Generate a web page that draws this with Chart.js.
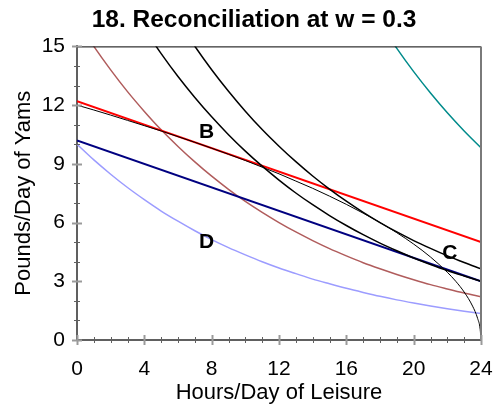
<!DOCTYPE html>
<html>
<head>
<meta charset="utf-8">
<script src="https://cdn.jsdelivr.net/npm/chart.js@4"></script>
<style>
  html, body { margin: 0; padding: 0; background: #fff; }
  canvas { display: block; }
</style>
</head>
<body>
<canvas id="leisureChart" width="499" height="407"></canvas>
<script>
// hours of leisure used for the curves
const hours = [0, 1, 2, 3, 4, 5, 6, 7, 8, 9, 10, 11, 12, 13, 14, 15, 16, 17, 18, 19, 20, 21, 22, 23, 24];

// indifference curves (pounds of yams)
const icLow = [10.0, 9.20, 8.47, 7.79, 7.17, 6.59, 6.07, 5.58, 5.13, 4.72, 4.35, 4.00, 3.68, 3.39, 3.11, 2.87, 2.64, 2.43, 2.23, 2.05, 1.89, 1.74, 1.60, 1.47, 1.35];
const icBrown = [16.3, 15.0, 13.8, 12.69, 11.68, 10.74, 9.89, 9.10, 8.37, 7.70, 7.08, 6.52, 6.00, 5.52, 5.08, 4.67, 4.30, 3.95, 3.64, 3.35, 3.08, 2.83, 2.61, 2.40, 2.21];
const icC = [22.2, 20.42, 18.79, 17.29, 15.91, 14.63, 13.46, 12.39, 11.40, 10.49, 9.65, 8.88, 8.17, 7.51, 6.91, 6.36, 5.85, 5.38, 4.95, 4.56, 4.19, 3.86, 3.55, 3.27, 3.00];
const icTop = [26.9, 24.75, 22.77, 20.95, 19.27, 17.73, 16.31, 15.01, 13.81, 12.71, 11.69, 10.75, 9.90, 9.11, 8.38, 7.71, 7.09, 6.52, 6.00, 5.52, 5.08, 4.68, 4.30, 3.96, 3.64];

const tealHours = [18, 19, 20, 21, 22, 23, 24];
const icTeal = [16.2, 14.9, 13.71, 12.62, 11.61, 10.68, 9.82];

// production possibility frontier
const ppfHours = [0, 1, 2, 3, 4, 5, 6, 7, 8, 9, 10, 11, 12, 13, 14, 15, 16, 17, 18, 19, 20, 21, 22, 22.5, 23, 23.5, 23.8, 23.95, 24];
const ppfYams = [12.0, 11.75, 11.49, 11.22, 10.95, 10.68, 10.39, 10.10, 9.80, 9.49, 9.17, 8.83, 8.49, 8.12, 7.75, 7.35, 6.93, 6.48, 6.00, 5.48, 4.90, 4.24, 3.46, 3.00, 2.45, 1.73, 1.10, 0.55, 0];

// budget lines at w = 0.3
const lineHours = [0, 24];
const profitLine = [12.2, 5.0];
const budgetLine = [10.2, 3.0];

// point labels
const pointNames = ['B', 'C', 'D'];
const pointHours = [7.7, 22.15, 7.7];
const pointYams = [10.62, 4.42, 5.0];

const FONT = "'Liberation Sans', Arial, Helvetica, sans-serif";

function pts(xs, ys) {
    return xs.map((x, i) => ({ x: x, y: ys[i] }));
}

function curve(data, color, width) {
    return {
        data: data,
        showLine: true,
        borderColor: color,
        backgroundColor: color,
        borderWidth: width,
        pointRadius: 0,
        cubicInterpolationMode: 'monotone',
        fill: false
    };
}

// frame, crossing tick marks and the B/C/D letters
const decorations = {
    id: 'decorations',
    afterDraw(chart) {
        const { ctx, chartArea: a, scales: { x, y } } = chart;
        ctx.save();
        // top and right edges
        ctx.strokeStyle = '#000';
        ctx.lineWidth = 1;
        ctx.beginPath();
        ctx.moveTo(a.left, a.top + 0.5);
        ctx.lineTo(a.right, a.top + 0.5);
        ctx.stroke();
        ctx.strokeStyle = '#7a7a7a';
        ctx.lineWidth = 2;
        ctx.beginPath();
        ctx.moveTo(a.right, a.top);
        ctx.lineTo(a.right, a.bottom);
        ctx.stroke();

        // ticks across the axes
        for (let v = 0; v <= 24; v++) {
            const px = Math.round(x.getPixelForValue(v)) + 0.5;
            const major = v % 4 === 0;
            ctx.strokeStyle = major ? '#9a9a9a' : '#606060';
            ctx.lineWidth = major ? 2 : 1;
            ctx.beginPath();
            ctx.moveTo(px, a.bottom - (major ? 5 : 3));
            ctx.lineTo(px, a.bottom + (major ? 5 : 3));
            ctx.stroke();
        }
        for (let v = 0; v <= 15; v++) {
            const py = Math.round(y.getPixelForValue(v)) + 0.5;
            const major = v % 3 === 0;
            ctx.strokeStyle = major ? '#9a9a9a' : '#606060';
            ctx.lineWidth = major ? 2 : 1;
            ctx.beginPath();
            ctx.moveTo(a.left - (major ? 5 : 3), py);
            ctx.lineTo(a.left + (major ? 5 : 3), py);
            ctx.stroke();
        }

        ctx.fillStyle = '#000';
        ctx.font = 'bold 21px ' + FONT;
        ctx.textAlign = 'center';
        ctx.textBaseline = 'middle';
        pointNames.forEach((name, i) => {
            ctx.fillText(name, x.getPixelForValue(pointHours[i]), y.getPixelForValue(pointYams[i]));
        });
        ctx.restore();
    }
};

const ctx = document.getElementById('leisureChart').getContext('2d');
const leisureChart = new Chart(ctx, {
    type: 'scatter',
    data: {
        datasets: [
            curve(pts(ppfHours, ppfYams), '#000000', 1),
            curve(pts(hours, icTop), '#000000', 1.5),
            curve(pts(hours, icC), '#000000', 1.5),
            curve(pts(lineHours, profitLine), '#ff0000', 2),
            curve(pts(lineHours, budgetLine), '#000080', 2),
            curve(pts(hours, icBrown), '#b05c5c', 1.5),
            curve(pts(hours, icLow), '#9c9cff', 1.5),
            curve(pts(tealHours, icTeal), '#008b8b', 1.5)
        ]
    },
    options: {
        responsive: false,
        animation: false,
        devicePixelRatio: 1,
        layout: { padding: { left: 9, right: 0, top: 0, bottom: 0 } },
        plugins: {
            legend: { display: false },
            tooltip: { enabled: false },
            title: {
                display: true,
                text: '18. Reconciliation at w = 0.3',
                color: '#000',
                font: { family: FONT, size: 24.5, weight: 'bold' },
                padding: { top: 6, bottom: 11 }
            }
        },
        scales: {
            x: {
                type: 'linear',
                min: 0,
                max: 24,
                afterFit: (s) => {
                    s.height = 67;
                    s.paddingLeft = 0;
                    s.paddingRight = 0;
                },
                grid: { display: false, drawTicks: false },
                border: { display: true, color: '#606060', width: 2 },
                ticks: {
                    stepSize: 4,
                    padding: 17,
                    color: '#000',
                    font: { family: FONT, size: 21 }
                },
                title: {
                    display: true,
                    text: 'Hours/Day of Leisure',
                    color: '#000',
                    font: { family: FONT, size: 22 },
                    padding: { top: 0, bottom: 1 }
                }
            },
            y: {
                type: 'linear',
                min: 0,
                max: 15,
                afterFit: (s) => {
                    s.width = 68;
                    s.paddingTop = 0;
                    s.paddingBottom = 0;
                },
                grid: { display: false, drawTicks: false },
                border: { display: true, color: '#606060', width: 2 },
                ticks: {
                    stepSize: 3,
                    padding: 12,
                    color: '#000',
                    font: { family: FONT, size: 21 }
                },
                title: {
                    display: true,
                    text: 'Pounds/Day of Yams',
                    color: '#000',
                    font: { family: FONT, size: 22 },
                    padding: { top: 2, bottom: 0 }
                }
            },
            // empty strip on the right so the plot ends where the reference does
            yRight: {
                type: 'linear',
                position: 'right',
                min: 0,
                max: 15,
                afterFit: (s) => { s.width = 18; },
                grid: { display: false, drawTicks: false },
                border: { display: false },
                ticks: { display: false }
            }
        }
    },
    plugins: [decorations]
});
</script>
</body>
</html>
